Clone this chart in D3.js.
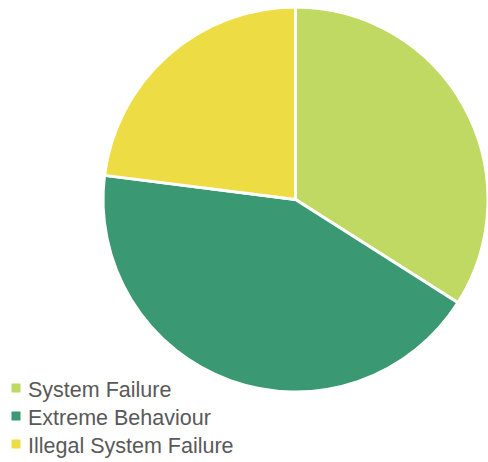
<!DOCTYPE html>
<html>
<head>
<meta charset="utf-8">
<script src="https://cdn.jsdelivr.net/npm/d3@7"></script>
<style>
  html, body { margin: 0; padding: 0; background: #fff; }
  svg { display: block; }
</style>
</head>
<body>
<svg id="chart" width="488" height="462"></svg>
<script>
const categories = ["System Failure", "Extreme Behaviour", "Illegal System Failure"];
const values = [34, 43, 23];
const colors = ["#BFD962", "#3A9873", "#EDDC43"];

const svg = d3.select("#chart");
const cx = 295.5, cy = 199.5, radius = 192.5;

const pie = d3.pie().sort(null).value(d => d.value);
const arc = d3.arc().innerRadius(0).outerRadius(radius);
const data = categories.map((c, i) => ({ name: c, value: values[i], color: colors[i] }));

svg.append("g")
  .attr("transform", `translate(${cx},${cy})`)
  .selectAll("path")
  .data(pie(data))
  .join("path")
  .attr("d", arc)
  .attr("fill", d => d.data.color)
  .attr("stroke", "#fff")
  .attr("stroke-width", 3)
  .attr("stroke-linejoin", "round");

// Legend, bottom-left
const legend = svg.append("g").attr("transform", "translate(11.5,383.5)");
const row = legend.selectAll("g")
  .data(data)
  .join("g")
  .attr("transform", (d, i) => `translate(0,${i * 28})`);
row.append("rect")
  .attr("width", 9).attr("height", 9)
  .attr("fill", d => d.color);
row.append("text")
  .attr("x", 16.5).attr("y", 13.5)
  .attr("font-family", "'Liberation Sans', Arial, sans-serif")
  .attr("font-size", 21.5)
  .attr("fill", "#595959")
  .text(d => d.name);
</script>
</body>
</html>
